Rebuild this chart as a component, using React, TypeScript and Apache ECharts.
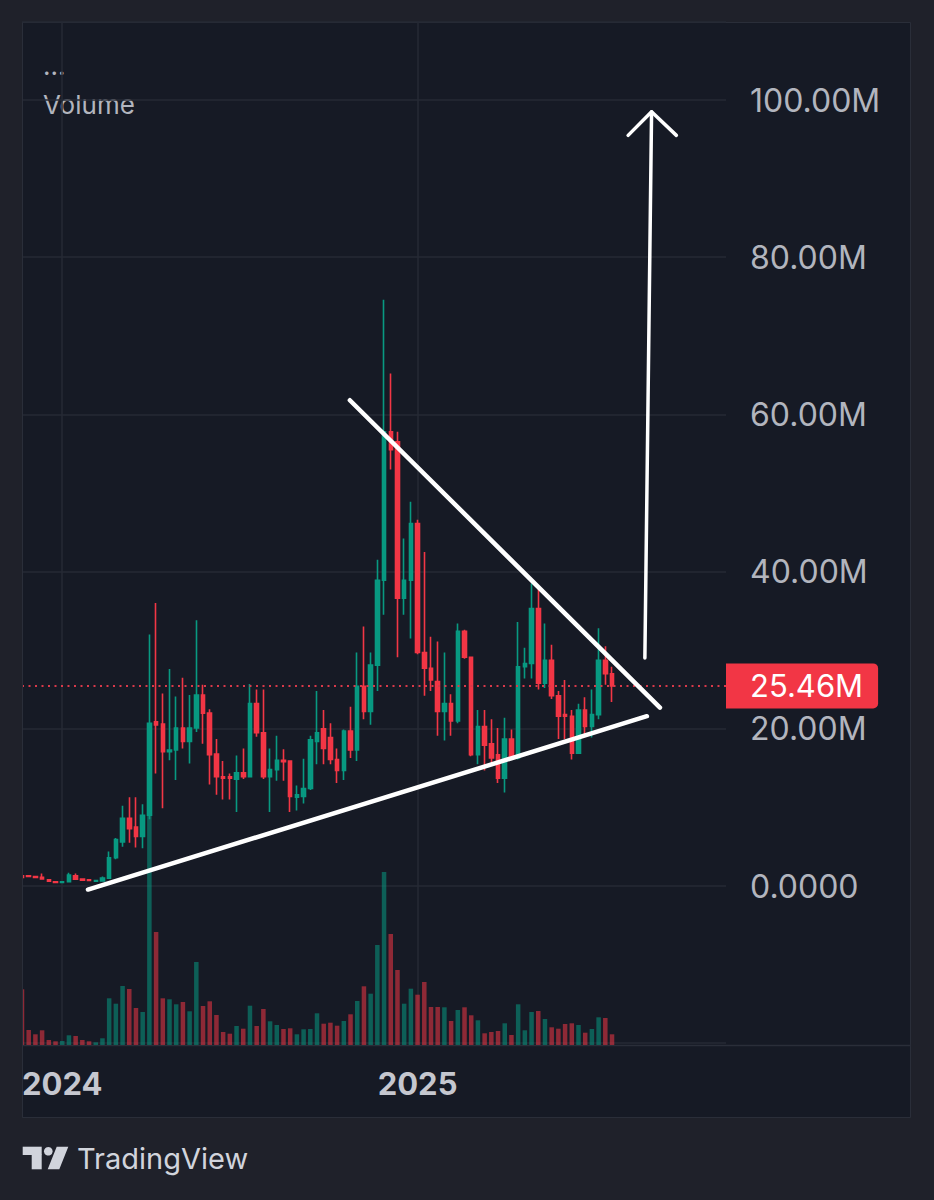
import React, { useEffect, useRef } from "react";
import * as echarts from "echarts";

// ---- data (weekly candles, values in millions) ----
const open = [1.3,1.3,1.2,1.1,0.8,0.55,0.45,0.55,1.3,0.9,0.8,0.6,0.65,1.0,3.6,5.6,8.6,7.5,6.3,9.0,
20.9,20.6,17.1,17.3,20.1,18.4,20.1,24.3,22.0,16.8,13.9,13.9,13.6,14.4,13.9,23.2,19.5,13.9,14.8,16.0,
15.9,11.3,11.4,12.4,18.4,20.0,18.9,16.1,14.7,19.7,17.3,25.4,22.2,28.1,38.9,57.8,56.5,36.6,38.9,46.1,
29.7,27.7,26.0,22.2,23.2,21.0,32.4,29.1,16.7,20.3,18.1,16.7,13.7,18.7,16.3,27.9,28.3,35.3,25.8,28.7,
24.2,21.8,21.6,16.9,22.4,20.3,21.8,28.7,27.0];
const close = [1.1,1.2,1.1,0.9,0.6,0.45,0.55,1.4,0.85,0.75,0.7,0.7,1.0,3.6,5.9,8.6,7.3,6.3,9.0,20.7,
20.5,17.1,17.3,20.1,18.4,20.1,24.3,22.0,16.7,13.9,13.7,13.7,14.4,13.9,23.2,19.5,13.9,14.8,16.0,15.8,
11.4,11.6,12.4,18.6,19.5,17.5,16.1,14.7,19.7,17.3,25.4,22.2,28.1,38.9,57.8,55.5,36.6,38.9,46.1,29.7,
27.7,26.2,22.2,23.2,21.0,32.4,29.1,16.7,20.3,17.9,16.3,13.7,18.7,16.3,27.9,28.3,35.3,25.8,28.7,24.2,
21.6,21.6,16.9,22.4,20.3,21.8,28.7,27.0,25.46];
const high = [2.7,1.4,1.3,1.6,0.9,0.6,0.6,1.7,1.6,1.0,0.85,0.8,1.2,4.4,6.1,10.2,11.3,11.3,10.4,32.0,
36.0,24.5,27.6,24.1,26.5,24.3,33.8,25.6,22.5,18.7,15.9,14.3,16.6,17.5,25.7,25.0,25.0,17.5,19.1,17.4,
15.9,12.8,16.2,19.1,24.8,22.4,20.7,17.5,19.9,22.8,29.7,33.0,29.7,41.5,74.6,65.2,57.8,44.2,48.9,46.6,
42.5,31.7,31.1,29.7,24.4,33.4,32.6,29.1,22.4,22.4,21.2,20.1,21.4,19.9,33.6,30.3,38.5,38.1,33.4,30.7,
24.8,26.2,22.4,23.2,24.0,25.0,32.8,30.5,27.9];
const low = [1.0,1.1,1.0,0.85,0.55,0.4,0.4,0.5,0.8,0.7,0.65,0.55,0.6,0.9,3.4,5.0,5.5,4.9,4.8,8.5,
14.3,9.9,16.0,13.5,17.5,15.6,19.6,18.1,12.9,11.6,11.0,11.0,9.4,13.6,13.8,19.0,13.6,9.4,13.4,13.4,
9.4,9.6,10.5,12.2,15.5,15.5,15.5,13.1,13.5,16.3,15.9,21.2,20.5,24.8,34.5,53.0,29.1,34.5,31.5,29.5,
24.2,24.8,19.1,18.5,19.1,20.7,28.9,16.5,15.5,14.7,15.5,13.1,11.9,16.1,16.1,26.4,26.4,25.0,25.2,23.8,
18.7,18.7,16.1,16.9,19.1,18.9,21.2,25.6,23.4];
const volume = [55.7,15,10.7,14.7,5,3.7,4,9.7,9,5,3.7,2.7,6.7,46.7,41.3,59,56,37,33,231,
113,46.7,45.7,40.7,43,33.7,83,39,43.7,30,13,11.3,19,16.3,39.3,19,36,23.7,20,16,
16.7,10.7,15.7,16,31.7,21.3,22.3,19.3,24,30.7,44,58.7,51.3,100,173,111,75,41.3,56.3,50.3,
63,38,38,37.7,24,35,37.7,29.7,24.7,11.7,13,14,21.7,10,40.7,14.7,33,34,26,17.7,
16.3,21,21.7,20,12.3,16,27.7,27,10.7];
const lastPrice = 25.46;
const priceTicks = [0, 20, 40, 60, 80, 100];

// drawn annotations: [week index, value in M]
const lowerTrend = [[9.84, -0.45], [93.2, 21.6]];
const upperTrend = [[48.9, 61.8], [95.15, 22.7]];
const arrowShaft = [[92.9, 29.0], [93.9, 98.5]];
const arrowHead = [[90.4, 95.5], [93.9, 98.5], [97.6, 95.5]];

// weekly categories (first week 2023-11-20), plus empty future weeks
const WEEK_COUNT = 106;
const START = Date.UTC(2023, 10, 20);
const weeks: string[] = Array.from({ length: WEEK_COUNT }, (_, i) =>
  new Date(START + i * 7 * 86400000).toISOString().slice(0, 10)
);
const isYearStart = (v: string) => {
  const d = new Date(v + "T00:00:00Z");
  return d.getUTCMonth() === 0 && d.getUTCDate() <= 7;
};

const UP = "#089981";
const DOWN = "#f23645";
const FONT = "Inter";

export default function App() {
  const ref = useRef<HTMLDivElement>(null);
  useEffect(() => {
    if (!ref.current) return;
    const chart = echarts.init(ref.current, null, { renderer: "svg" });
    const candles = open.map((o, i) => [o, close[i], low[i], high[i]]);
    const vols = volume.map((v, i) => ({
      value: v,
      itemStyle: { color: close[i] >= open[i] ? UP : DOWN, opacity: 0.55 },
    }));
    const annot = (data: number[][], width: number) => ({
      type: "line",
      xAxisIndex: 1,
      yAxisIndex: 0,
      data,
      symbol: "none",
      silent: true,
      clip: false,
      z: 5,
      lineStyle: { color: "#ffffff", width, cap: "round", join: "round" },
    });
    chart.setOption({
      animation: false,
      backgroundColor: "#1f212a",
      textStyle: { fontFamily: FONT },
      grid: [
        { left: 22, top: 21.4, width: 704, height: 1021.8 },
        { left: 22, top: 745, width: 704, height: 300 },
      ],
      xAxis: [
        {
          type: "category", gridIndex: 0, data: weeks, boundaryGap: false,
          axisLine: { show: false }, axisTick: { show: false }, axisLabel: { show: false },
          splitLine: { show: true, interval: (_i: number, v: string) => isYearStart(v), lineStyle: { color: "#262a35", width: 1.5 } },
        },
        { type: "value", gridIndex: 0, min: 0, max: WEEK_COUNT - 1, show: false },
        {
          type: "category", gridIndex: 1, data: weeks, boundaryGap: false,
          axisLine: { show: false }, axisTick: { show: false }, splitLine: { show: false },
          axisLabel: {
            show: true,
            interval: (_i: number, v: string) => isYearStart(v),
            formatter: (v: string) => (isYearStart(v) ? v.slice(0, 4) : ""),
            color: "#c5c7cf", fontSize: 31, fontWeight: "bold", margin: 23, fontFamily: FONT,
          },
        },
      ],
      yAxis: [
        {
          type: "value", gridIndex: 0, position: "right", min: -20, max: 110, interval: 20,
          axisLine: { show: false }, axisTick: { show: false },
          splitLine: { show: true, lineStyle: { color: "#262a35", width: 1.5 } },
          axisLabel: {
            color: "#b2b5be", fontSize: 32, margin: 24, fontFamily: FONT,
            formatter: (v: number) => (priceTicks.indexOf(v) < 0 ? "" : v === 0 ? "0.0000" : v.toFixed(2) + "M"),
          },
        },
        { type: "value", gridIndex: 1, min: 0, max: 300, show: false },
      ],
      series: [
        {
          type: "bar", name: "Volume", xAxisIndex: 2, yAxisIndex: 1, data: vols,
          barWidth: 4.5, silent: true, z: 1, clip: true,
        },
        {
          type: "candlestick", name: "Price", xAxisIndex: 0, yAxisIndex: 0, data: candles,
          barWidth: 4, z: 3, clip: true,
          itemStyle: { color: UP, color0: DOWN, borderColor: UP, borderColor0: DOWN, borderWidth: 1.6 },
          markLine: {
            silent: true,
            symbol: ["none", "none"],
            data: [{ yAxis: lastPrice }],
            lineStyle: { color: "#d8394a", type: [2, 4.5], width: 2 },
            label: {
              show: true, position: "end", distance: 0,
              formatter: () => lastPrice.toFixed(2) + "M",
              backgroundColor: DOWN, color: "#ffffff", fontSize: 31, fontFamily: FONT,
              padding: [7, 15, 7, 24], borderRadius: [0, 5, 5, 0], opacity: 1,
            },
          },
        },
        annot(lowerTrend, 4.5),
        annot(upperTrend, 4.5),
        annot(arrowShaft, 3.5),
        annot(arrowHead, 3.5),
      ],
      graphic: [
        {
          type: "rect", z: -10, silent: true,
          shape: { x: 22.5, y: 22.5, width: 888, height: 1095 },
          style: { fill: "#161a25", stroke: "#2a2e39", lineWidth: 1 },
        },
        {
          type: "rect", z: 10, silent: true,
          shape: { x: 0, y: 0, width: 22, height: 1200 },
          style: { fill: "#1f212a" },
        },
        {
          type: "line", z: 10, silent: true,
          shape: { x1: 22.5, y1: 22.5, x2: 22.5, y2: 1117.5 },
          style: { stroke: "#2a2e39", lineWidth: 1 },
        },
        {
          type: "line", z: 0, silent: true,
          shape: { x1: 22.5, y1: 1045.5, x2: 910.5, y2: 1045.5 },
          style: { stroke: "#2a2e39", lineWidth: 1.5 },
        },
        {
          type: "text", x: 43, y: 78, silent: true,
          style: { text: "...", fill: "#b2b5be", font: `26px ${FONT}`, textVerticalAlign: "bottom" },
        },
        {
          type: "text", x: 43, y: 104, silent: true,
          style: { text: "Volume", fill: "#b2b5be", font: `26px ${FONT}`, textVerticalAlign: "middle" },
        },
        { type: "rect", silent: true, shape: { x: 22.7, y: 1146.7, width: 19, height: 8.3 }, style: { fill: "#d1d4dc" } },
        { type: "rect", silent: true, shape: { x: 31.7, y: 1154.5, width: 10, height: 14.8 }, style: { fill: "#d1d4dc" } },
        { type: "circle", silent: true, shape: { cx: 48.3, cy: 1151.3, r: 4.3 }, style: { fill: "#d1d4dc" } },
        {
          type: "polygon", silent: true,
          shape: { points: [[56.7, 1146.7], [68.3, 1146.7], [59.3, 1169.3], [47.7, 1169.3]] },
          style: { fill: "#d1d4dc" },
        },
        {
          type: "text", x: 77, y: 1158, silent: true,
          style: { text: "TradingView", fill: "#d1d4dc", font: `29px ${FONT}`, textVerticalAlign: "middle" },
        },
      ],
    });
    return () => chart.dispose();
  }, []);
  return <div ref={ref} style={{ position: "absolute", left: 0, top: 0, width: 934, height: 1200 }} />;
}
